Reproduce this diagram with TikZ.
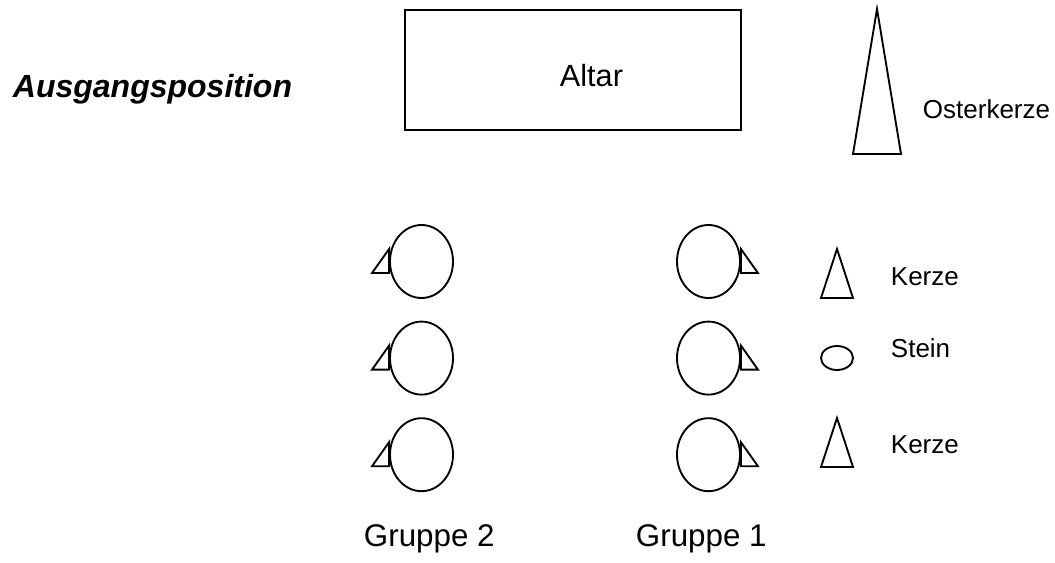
\documentclass[tikz,border=0pt]{standalone}
\usepackage{fontspec}
\setmainfont{Liberation Sans}
\usetikzlibrary{shapes.geometric,positioning,calc}
\begin{document}
\begin{tikzpicture}[x=0.75pt, y=-0.75pt, line width=1.4pt]

	\tikzset{
	person/.style={draw, ellipse, inner sep=0pt, minimum width=47.25pt, minimum height=54.75pt},
	stone/.style={draw, ellipse, inner sep=0pt, minimum width=24pt, minimum height=18pt},
	lbl/.style={inner sep=0pt, anchor=base west, font=\fontsize{19.5}{23}\selectfont},
	grp/.style={inner sep=0pt, anchor=base west, font=\fontsize{23.5}{28}\selectfont}
	}

	\useasboundingbox (0,0) rectangle (1055,563);

	% Nodes
	\node[inner sep=0pt, anchor=base west, font=\fontsize{24}{29}\bfseries\itshape\selectfont] (title) at (12,98) {Ausgangsposition};
	\node[draw, inner sep=0pt, minimum width=252pt, minimum height=90pt] (altar) at (573,70) {};
	\node[grp, font=\fontsize{23}{28}\selectfont] (altartext) at (559,87) {Altar};

	\node[person] (g2a) at (421.5,261.5) {};
	\node[person, below=16.3pt of g2a] (g2b) {};
	\node[person, below=16.3pt of g2b] (g2c) {};
	\node[person] (g1a) at (708.5,261.5) {};
	\node[person, below=16.3pt of g1a] (g1b) {};
	\node[person, below=16.3pt of g1b] (g1c) {};

	\node[grp] (grp2) at (363,546) {Gruppe 2};
	\node[grp] (grp1) at (635,546) {Gruppe 1};

	\node[stone] (stein) at (837,358) {};
	\node[lbl] (osterlbl) at (922,118) {Osterkerze};
	\node[lbl] (kerzelbla) at (890,285) {Kerze};
	\node[lbl] (steinlbl) at (890,357) {Stein};
	\node[lbl] (kerzelblb) at (890,453) {Kerze};

	\coordinate (oster) at (877,9);
	\coordinate (kerzea) at (837,249);
	\coordinate (kerzeb) at (837,418);

	% Lines
	\draw (oster) -- ++(24,145) -- ++(-48,0) -- cycle;
	\draw (kerzea) -- ++(16,49) -- ++(-32,0) -- cycle;
	\draw (kerzeb) -- ++(16,49) -- ++(-32,0) -- cycle;

	\draw ($(g2a.west)+(0,-12.5)$) -- ($(g2a.west)+(0,11.5)$) -- ($(g2a.west)+(-17,11.5)$) -- cycle;
	\draw ($(g2b.west)+(0,-12.5)$) -- ($(g2b.west)+(0,11.5)$) -- ($(g2b.west)+(-17,11.5)$) -- cycle;
	\draw ($(g2c.west)+(0,-12.5)$) -- ($(g2c.west)+(0,11.5)$) -- ($(g2c.west)+(-17,11.5)$) -- cycle;
	\draw ($(g1a.east)+(0,-12.5)$) -- ($(g1a.east)+(0,11.5)$) -- ($(g1a.east)+(17,11.5)$) -- cycle;
	\draw ($(g1b.east)+(0,-12.5)$) -- ($(g1b.east)+(0,11.5)$) -- ($(g1b.east)+(17,11.5)$) -- cycle;
	\draw ($(g1c.east)+(0,-12.5)$) -- ($(g1c.east)+(0,11.5)$) -- ($(g1c.east)+(17,11.5)$) -- cycle;

	\end{tikzpicture}
\end{document}
